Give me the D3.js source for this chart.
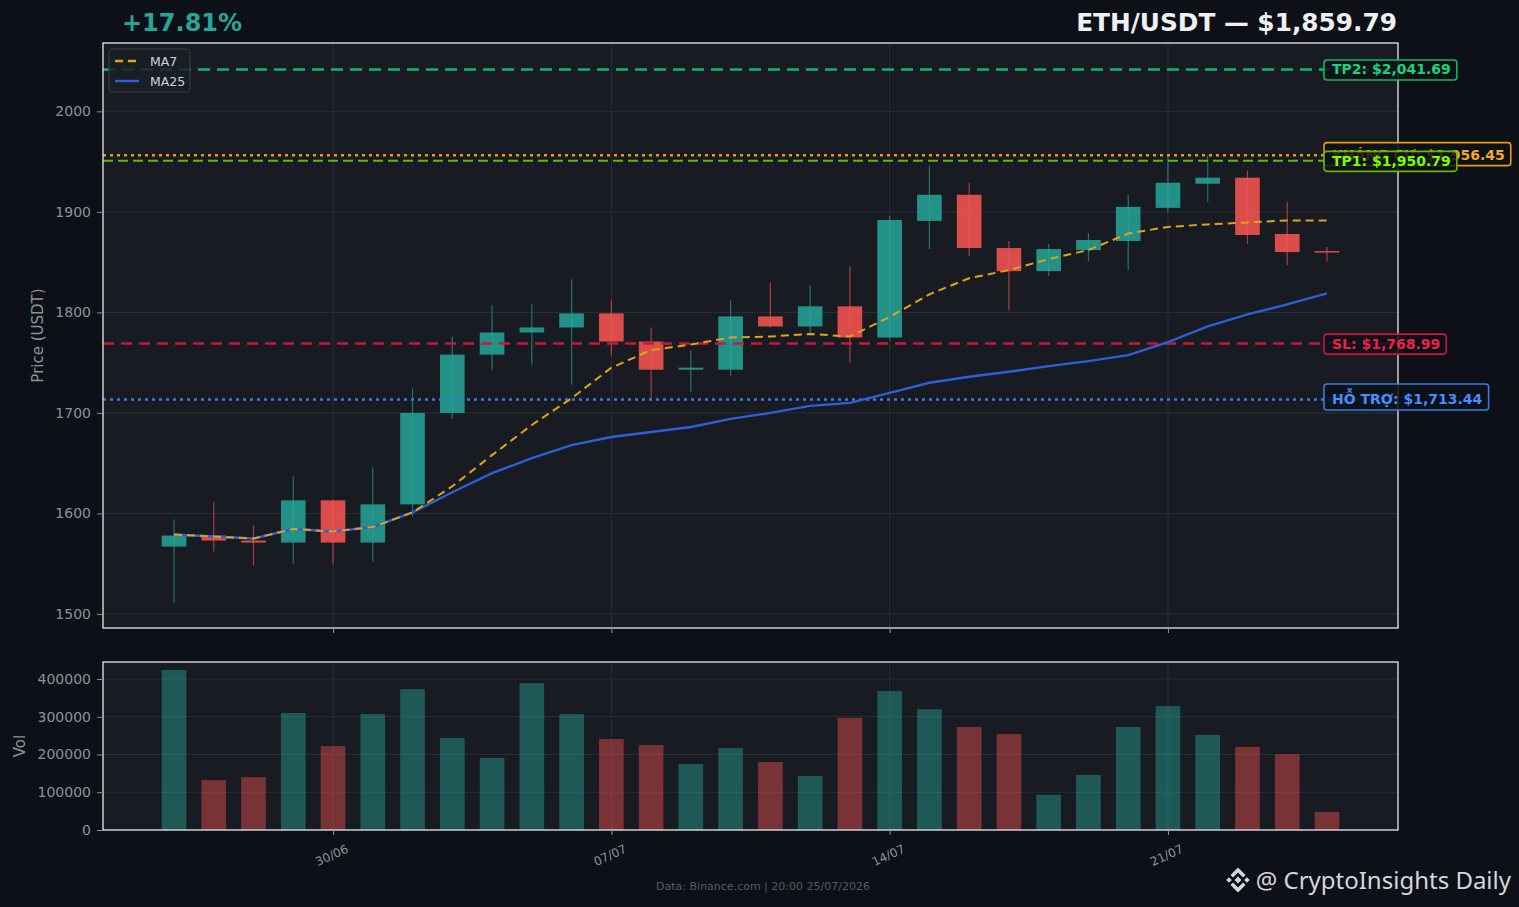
<!DOCTYPE html>
<html>
<head>
<meta charset="utf-8">
<script src="https://cdn.jsdelivr.net/npm/d3@7"></script>
<style>
  body { margin: 0; background: #0d1017; }
  svg { display: block; font-family: "DejaVu Sans", sans-serif; }
</style>
</head>
<body>
<div id="chart"></div>
<script>
// daily candles ETH/USDT, 26/06 -> 25/07
const days = ["2026-06-26","2026-06-27","2026-06-28","2026-06-29","2026-06-30",
  "2026-07-01","2026-07-02","2026-07-03","2026-07-04","2026-07-05","2026-07-06","2026-07-07",
  "2026-07-08","2026-07-09","2026-07-10","2026-07-11","2026-07-12","2026-07-13","2026-07-14",
  "2026-07-15","2026-07-16","2026-07-17","2026-07-18","2026-07-19","2026-07-20","2026-07-21",
  "2026-07-22","2026-07-23","2026-07-24","2026-07-25"];
const opens  = [1567,1578,1573,1571,1613,1571,1609,1700,1758,1780,1785,1799,1771,1743,1743,1796,1786,1806,1775,1891,1917,1864,1841,1862,1871,1904,1928,1934,1878,1861];
const highs  = [1594,1611,1588,1637,1614,1646,1724,1776,1807,1808,1833,1813,1785,1762,1812,1830,1827,1846,1896,1946,1929,1871,1868,1879,1917,1955,1956,1941,1910,1865];
const lows   = [1511,1562,1548,1550,1549,1552,1597,1694,1743,1748,1728,1757,1714,1721,1737,1785,1778,1750,1772,1863,1856,1802,1836,1851,1842,1900,1910,1868,1847,1850];
const closes = [1578,1573,1571,1613,1571,1609,1700,1758,1780,1785,1799,1771,1743,1745,1796,1786,1806,1775,1892,1917,1864,1841,1863,1872,1905,1929,1934,1877,1860,1859.79];
const volumes = [424000,132000,140000,310000,222000,307000,373000,244000,191000,389000,307000,241000,225000,175000,217000,180000,143000,297000,368000,320000,273000,254000,93000,146000,273000,328000,252000,220000,201000,48000];

// moving averages as plotted
const ma7  = [1579,1577,1575,1584.5,1582,1586.5,1601,1627,1658,1688,1714.5,1745,1762.5,1768,1775,1776,1778.5,1776,1795.5,1818,1834,1842,1853,1862,1878.5,1885,1887.5,1889.5,1891.5,1891.5];
const ma25 = [1579,1577,1575,1584.5,1582,1586.5,1601,1621,1640,1655,1668,1676,1681,1686,1694,1700,1707,1710,1720,1730,1736,1741,1746.5,1751.5,1757.5,1770.4,1786,1798,1808,1819];

// key levels
const levelNames  = ["HỖ TRỢ", "KHÁNG CỰ", "SL", "TP1", "TP2"];
const levelValues = [1713.44, 1956.45, 1768.99, 1950.79, 2041.69];

const priceTicks = [1500, 1600, 1700, 1800, 1900, 2000];
const volTicks = [0, 100000, 200000, 300000, 400000];
const xTickDays = ["2026-06-30", "2026-07-07", "2026-07-14", "2026-07-21"];

const pair = "ETH/USDT";
const lastPrice = 1859.79;
const changePct = 17.81;

// ---- styles ----
const levelStyle = {
  "HỖ TRỢ":   { line: "#3b7be0", text: "#4a8cff", dash: "3,4", w: 2.5 },
  "KHÁNG CỰ": { line: "#e89a12", text: "#f5a623", dash: "3,4", w: 2.5 },
  "SL":       { line: "#c8183c", text: "#f0204a", dash: "11,7", w: 2.5 },
  "TP1":      { line: "#5fb80a", text: "#7cfc00", dash: "10,5", w: 2 },
  "TP2":      { line: "#10b860", text: "#1fd17a", dash: "12,7", w: 2.5 }
};
const upCol = "#26a69a", downCol = "#ef5350";

const W = 1519, H = 907;
const pr = { left: 103, top: 43, width: 1295, height: 585 };
const vo = { left: 103, top: 662, width: 1295, height: 168 };

const parse = d3.timeParse("%Y-%m-%d");
const dates = days.map(parse);
const DAY = 864e5;
const pad = 1.786 * DAY;

const svg = d3.select("#chart").append("svg")
  .attr("width", W).attr("height", H);
svg.append("rect").attr("width", W).attr("height", H).attr("fill", "#0d1017");

const x = d3.scaleTime()
  .domain([new Date(+dates[0] - pad), new Date(+dates[dates.length - 1] + pad)])
  .range([0, pr.width]);
const y = d3.scaleLinear().domain([1486, 2068]).range([pr.height, 0]);
const yv = d3.scaleLinear().domain([0, 445000]).range([vo.height, 0]);
const dayPx = x(dates[1]) - x(dates[0]);
const bw = dayPx * 0.62;
const xTicks = xTickDays.map(parse);

// ---------- price panel ----------
const gp = svg.append("g").attr("transform", `translate(${pr.left},${pr.top})`);
gp.append("rect").attr("width", pr.width).attr("height", pr.height).attr("fill", "#181b22");

// grid
gp.append("g").selectAll("line").data(priceTicks).join("line")
  .attr("x1", 0).attr("x2", pr.width)
  .attr("y1", d => y(d)).attr("y2", d => y(d))
  .attr("stroke", "#2a2e37").attr("stroke-width", 1);
gp.append("g").selectAll("line").data(xTicks).join("line")
  .attr("x1", d => x(d)).attr("x2", d => x(d))
  .attr("y1", 0).attr("y2", pr.height)
  .attr("stroke", "#2a2e37").attr("stroke-width", 1);

const candles = dates.map((d, i) => ({
  date: d, o: opens[i], h: highs[i], l: lows[i], c: closes[i], v: volumes[i],
  up: closes[i] >= opens[i]
}));

// wicks
gp.append("g").selectAll("line").data(candles).join("line")
  .attr("x1", d => x(d.date)).attr("x2", d => x(d.date))
  .attr("y1", d => y(d.h)).attr("y2", d => y(d.l))
  .attr("stroke", d => d.up ? upCol : downCol)
  .attr("stroke-opacity", 0.65)
  .attr("stroke-width", 1.2);

// bodies
gp.append("g").selectAll("rect").data(candles).join("rect")
  .attr("x", d => x(d.date) - bw / 2)
  .attr("width", bw)
  .attr("y", d => y(Math.max(d.o, d.c)))
  .attr("height", d => Math.max(1.5, Math.abs(y(d.o) - y(d.c))))
  .attr("fill", d => d.up ? upCol : downCol)
  .attr("fill-opacity", d => d.up ? 0.85 : 0.9);

// level lines
const levels = levelNames.map((n, i) => ({ name: n, value: levelValues[i] }));
gp.append("g").selectAll("line").data(levels).join("line")
  .attr("x1", 0).attr("x2", pr.width)
  .attr("y1", d => y(d.value)).attr("y2", d => y(d.value))
  .attr("stroke", d => levelStyle[d.name].line)
  .attr("stroke-width", d => levelStyle[d.name].w)
  .attr("stroke-dasharray", d => levelStyle[d.name].dash);

// moving averages
const line = d3.line().x((d, i) => x(dates[i])).y(d => y(d));
gp.append("path").datum(ma25)
  .attr("d", line).attr("fill", "none")
  .attr("stroke", "#2f5fd8").attr("stroke-width", 2.4);
gp.append("path").datum(ma7)
  .attr("d", line).attr("fill", "none")
  .attr("stroke", "#e0a419").attr("stroke-width", 2)
  .attr("stroke-dasharray", "8,5");

// border
gp.append("rect").attr("width", pr.width).attr("height", pr.height)
  .attr("fill", "none").attr("stroke", "#e8e8e8").attr("stroke-width", 1.3);

// y axis
const ya = gp.append("g")
  .call(d3.axisLeft(y).tickValues(priceTicks).tickSize(6).tickPadding(6).tickFormat(d3.format("d")));
ya.select(".domain").remove();
ya.selectAll("line").attr("stroke", "#8b929b");
ya.selectAll("text").attr("fill", "#8b929b").style("font-size", "14px").style("font-family", "DejaVu Sans");

// x tick marks (no labels)
const xa = gp.append("g").attr("transform", `translate(0,${pr.height})`)
  .call(d3.axisBottom(x).tickValues(xTicks).tickSize(5).tickFormat(""));
xa.select(".domain").remove();
xa.selectAll("line").attr("stroke", "#8b929b");

// level labels (TP1 drawn over resistance, as in the source)
const labelOrder = ["TP2", "KHÁNG CỰ", "TP1", "SL", "HỖ TRỢ"];
const fmt = d3.format(",.2f");
labelOrder.forEach(name => {
  const lv = levels.find(l => l.name === name);
  const st = levelStyle[name];
  const g = gp.append("g");
  const t = g.append("text")
    .attr("x", 1332 - pr.left)
    .attr("y", y(lv.value))
    .attr("dy", "0.36em")
    .attr("fill", st.text)
    .style("font-size", "14px")
    .style("font-weight", "bold")
    .text(`${name}: $${fmt(lv.value)}`);
  const bb = t.node().getBBox();
  const tall = /[ỖỢỰÁ]/.test(name) ? 3 : 0;
  g.insert("rect", "text")
    .attr("x", bb.x - 8).attr("y", bb.y - 1.5 - tall)
    .attr("width", bb.width + 14).attr("height", bb.height + 4 + tall)
    .attr("rx", 3)
    .attr("fill", "#0d1017").attr("fill-opacity", 0.85)
    .attr("stroke", st.line).attr("stroke-width", 1.6);
});

// legend
const lg = gp.append("g").attr("transform", "translate(6,6)");
lg.append("rect").attr("width", 81).attr("height", 43).attr("rx", 3)
  .attr("fill", "#1a1e26").attr("fill-opacity", 0.85)
  .attr("stroke", "#3a3f48").attr("stroke-width", 1);
const legendItems = [
  { name: "MA7", color: "#e0a419", dash: "8,5" },
  { name: "MA25", color: "#2f5fd8", dash: null }
];
legendItems.forEach((d, i) => {
  const yy = 12 + i * 20;
  lg.append("line").attr("x1", 6).attr("x2", 30).attr("y1", yy).attr("y2", yy)
    .attr("stroke", d.color).attr("stroke-width", 2.4)
    .attr("stroke-dasharray", d.dash);
  lg.append("text").attr("x", 41).attr("y", yy).attr("dy", "0.36em")
    .attr("fill", "#d0d4da").style("font-size", "12.5px").text(d.name);
});

// ---------- volume panel ----------
const gv = svg.append("g").attr("transform", `translate(${vo.left},${vo.top})`);
gv.append("rect").attr("width", vo.width).attr("height", vo.height).attr("fill", "#181b22");
gv.append("g").selectAll("line").data(volTicks).join("line")
  .attr("x1", 0).attr("x2", vo.width)
  .attr("y1", d => yv(d)).attr("y2", d => yv(d))
  .attr("stroke", "#2a2e37");
gv.append("g").selectAll("line").data(xTicks).join("line")
  .attr("x1", d => x(d)).attr("x2", d => x(d))
  .attr("y1", 0).attr("y2", vo.height)
  .attr("stroke", "#2a2e37");

gv.append("g").selectAll("rect").data(candles).join("rect")
  .attr("x", d => x(d.date) - bw / 2)
  .attr("width", bw)
  .attr("y", d => yv(d.v))
  .attr("height", d => vo.height - yv(d.v))
  .attr("fill", d => d.up ? upCol : downCol)
  .attr("fill-opacity", 0.45);

gv.append("rect").attr("width", vo.width).attr("height", vo.height)
  .attr("fill", "none").attr("stroke", "#e8e8e8").attr("stroke-width", 1.3);

const yva = gv.append("g")
  .call(d3.axisLeft(yv).tickValues(volTicks).tickSize(6).tickPadding(6).tickFormat(d3.format("d")));
yva.select(".domain").remove();
yva.selectAll("line").attr("stroke", "#8b929b");
yva.selectAll("text").attr("fill", "#8b929b").style("font-size", "14px").style("font-family", "DejaVu Sans");

const xva = gv.append("g").attr("transform", `translate(0,${vo.height})`)
  .call(d3.axisBottom(x).tickValues(xTicks).tickSize(5).tickFormat(d3.timeFormat("%d/%m")));
xva.select(".domain").remove();
xva.selectAll("line").attr("stroke", "#8b929b");
xva.selectAll("text")
  .attr("fill", "#8b929b")
  .style("font-size", "12px").style("font-family", "DejaVu Sans")
  .attr("y", 0).attr("dy", 0)
  .attr("text-anchor", "middle")
  .attr("transform", "translate(0,29) rotate(-25)");

// ---------- texts ----------
svg.append("text").attr("x", 38).attr("y", pr.top + pr.height / 2)
  .attr("transform", `rotate(-90,38,${pr.top + pr.height / 2})`)
  .attr("text-anchor", "middle").attr("dy", "0.36em")
  .attr("fill", "#8b929b").style("font-size", "15px").text("Price (USDT)");
svg.append("text").attr("x", 20).attr("y", vo.top + vo.height / 2)
  .attr("transform", `rotate(-90,20,${vo.top + vo.height / 2})`)
  .attr("text-anchor", "middle").attr("dy", "0.36em")
  .attr("fill", "#8b929b").style("font-size", "15px").text("Vol");

svg.append("text").attr("x", 122).attr("y", 31)
  .attr("fill", "#26a69a").style("font-size", "24px").style("font-weight", "bold")
  .text(`+${changePct.toFixed(2)}%`);
svg.append("text").attr("x", 1397).attr("y", 31).attr("text-anchor", "end")
  .attr("fill", "#eef0f3").style("font-size", "24.8px").style("font-weight", "bold")
  .text(`${pair} — $${fmt(lastPrice)}`);

svg.append("text").attr("x", 763).attr("y", 890).attr("text-anchor", "middle")
  .attr("fill", "#555b63").style("font-size", "11px")
  .text("Data: Binance.com | 20:00 25/07/2026");

// watermark with binance-like mark
const wm = svg.append("g").attr("transform", "translate(1238,880)").attr("fill", "#d4d7dc");
wm.append("path").attr("d", "M0,-3.5L3.5,0L0,3.5L-3.5,0Z");
wm.append("path").attr("d", "M-9,-2.8L-6.2,0L-9,2.8L-11.8,0Z");
wm.append("path").attr("d", "M9,-2.8L11.8,0L9,2.8L6.2,0Z");
wm.append("path").attr("d", "M0,-12.5L7.5,-5L5,-2.5L0,-7.5L-5,-2.5L-7.5,-5Z");
wm.append("path").attr("d", "M0,12.5L7.5,5L5,2.5L0,7.5L-5,2.5L-7.5,5Z");
svg.append("text").attr("x", 1511).attr("y", 889).attr("text-anchor", "end")
  .attr("fill", "#d4d7dc").style("font-size", "24px").style("font-family", "Noto Sans")
  .text("@ CryptoInsights Daily");
</script>
</body>
</html>
